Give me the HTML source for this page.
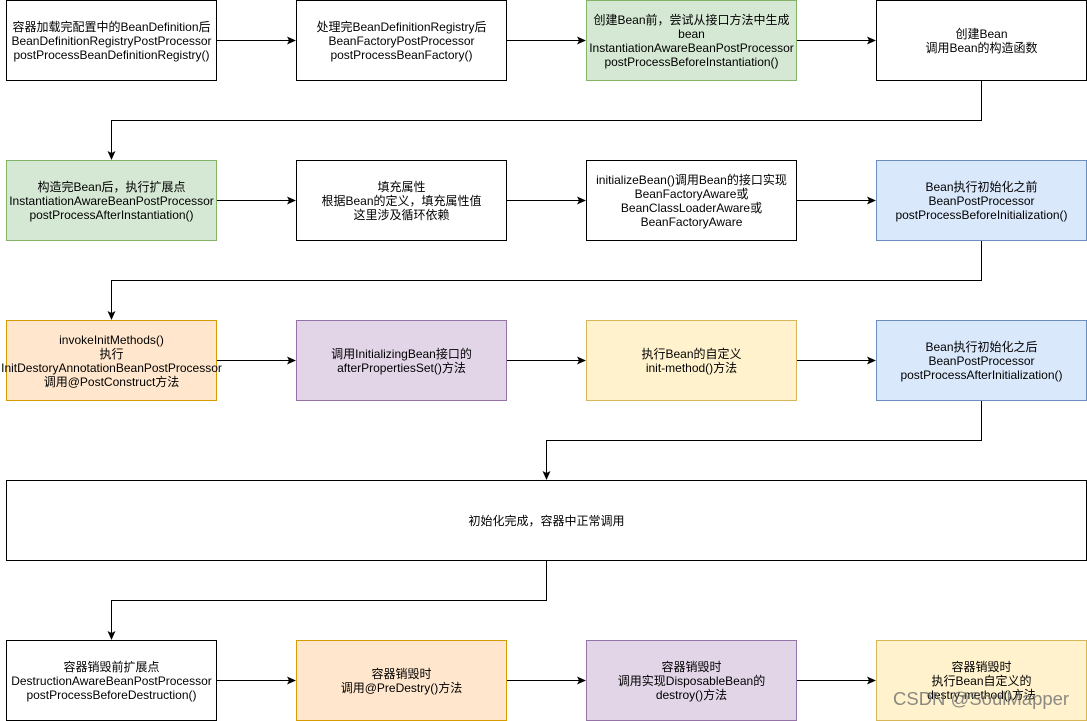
<!DOCTYPE html>
<html><head><meta charset="utf-8"><style>
body{margin:0;width:1087px;height:721px;background:#fff;position:relative;overflow:hidden;font-family:"Liberation Sans","Noto Sans CJK SC",sans-serif;}
.b{position:absolute;box-sizing:border-box;border:1px solid #000;background:#fff;display:flex;align-items:center;justify-content:center;text-align:center;font-size:12px;line-height:14px;color:#000;white-space:nowrap;width:211px;height:81px}
.g{background:#d5e8d4;border-color:#82b366}
.bl{background:#dae8fc;border-color:#6c8ebf}
.o{background:#ffe6cc;border-color:#d79b00}
.p{background:#e1d5e7;border-color:#9673a6}
.y{background:#fff2cc;border-color:#d6b656}
svg{position:absolute;left:0;top:0}
.wm{position:absolute;left:893px;top:688px;font-size:18.5px;color:rgba(110,110,110,0.8);white-space:nowrap}
</style></head><body>
<svg width="1087" height="721">
<defs><marker id="a" markerWidth="10" markerHeight="10" refX="8" refY="5" orient="auto" markerUnits="userSpaceOnUse"><path d="M0,1 L9,5 L0,9 L2,5 Z" fill="#000"/></marker></defs>
<g stroke="#000" stroke-width="1" fill="none" marker-end="url(#a)">
<path d="M216.5,40.5 H295"/><path d="M506.5,40.5 H585"/><path d="M796.5,40.5 H875"/>
<path d="M981.5,80 V120.5 H111.5 V159"/>
<path d="M216.5,200.5 H295"/><path d="M506.5,200.5 H585"/><path d="M796.5,200.5 H875"/>
<path d="M981.5,240 V280.5 H111.5 V319"/>
<path d="M216.5,360.5 H295"/><path d="M506.5,360.5 H585"/><path d="M796.5,360.5 H875"/>
<path d="M981.5,400 V440.5 H546.5 V479"/>
<path d="M546.5,560 V600.5 H111.5 V639"/>
<path d="M216.5,680.5 H295"/><path d="M506.5,680.5 H585"/><path d="M796.5,680.5 H875"/>
</g></svg>
<div class="b" style="left:6px;top:0">容器加载完配置中的BeanDefinition后<br>BeanDefinitionRegistryPostProcessor<br>postProcessBeanDefinitionRegistry()</div>
<div class="b" style="left:296px;top:0">处理完BeanDefinitionRegistry后<br>BeanFactoryPostProcessor<br>postProcessBeanFactory()</div>
<div class="b g" style="left:586px;top:0">创建Bean前，尝试从接口方法中生成<br>bean<br>InstantiationAwareBeanPostProcessor<br>postProcessBeforeInstantiation()</div>
<div class="b" style="left:876px;top:0">创建Bean<br>调用Bean的构造函数</div>
<div class="b g" style="left:6px;top:160px">构造完Bean后，执行扩展点<br>InstantiationAwareBeanPostProcessor<br>postProcessAfterInstantiation()</div>
<div class="b" style="left:296px;top:160px">填充属性<br>根据Bean的定义，填充属性值<br>这里涉及循环依赖</div>
<div class="b" style="left:586px;top:160px">initializeBean()调用Bean的接口实现<br>BeanFactoryAware或<br>BeanClassLoaderAware或<br>BeanFactoryAware</div>
<div class="b bl" style="left:876px;top:160px">Bean执行初始化之前<br>BeanPostProcessor<br>postProcessBeforeInitialization()</div>
<div class="b o" style="left:6px;top:320px">invokeInitMethods()<br>执行<br>InitDestoryAnnotationBeanPostProcessor<br>调用@PostConstruct方法</div>
<div class="b p" style="left:296px;top:320px">调用InitializingBean接口的<br>afterPropertiesSet()方法</div>
<div class="b y" style="left:586px;top:320px">执行Bean的自定义<br>init-method()方法</div>
<div class="b bl" style="left:876px;top:320px">Bean执行初始化之后<br>BeanPostProcessor<br>postProcessAfterInitialization()</div>
<div class="b" style="left:6px;top:480px;width:1081px">初始化完成，容器中正常调用</div>
<div class="b" style="left:6px;top:640px">容器销毁前扩展点<br>DestructionAwareBeanPostProcessor<br>postProcessBeforeDestruction()</div>
<div class="b o" style="left:296px;top:640px">容器销毁时<br>调用@PreDestry()方法</div>
<div class="b p" style="left:586px;top:640px">容器销毁时<br>调用实现DisposableBean的<br>destroy()方法</div>
<div class="b y" style="left:876px;top:640px">容器销毁时<br>执行Bean自定义的<br>destry-method()方法</div>
<div class="wm">CSDN @SoulMapper</div>
</body></html>
